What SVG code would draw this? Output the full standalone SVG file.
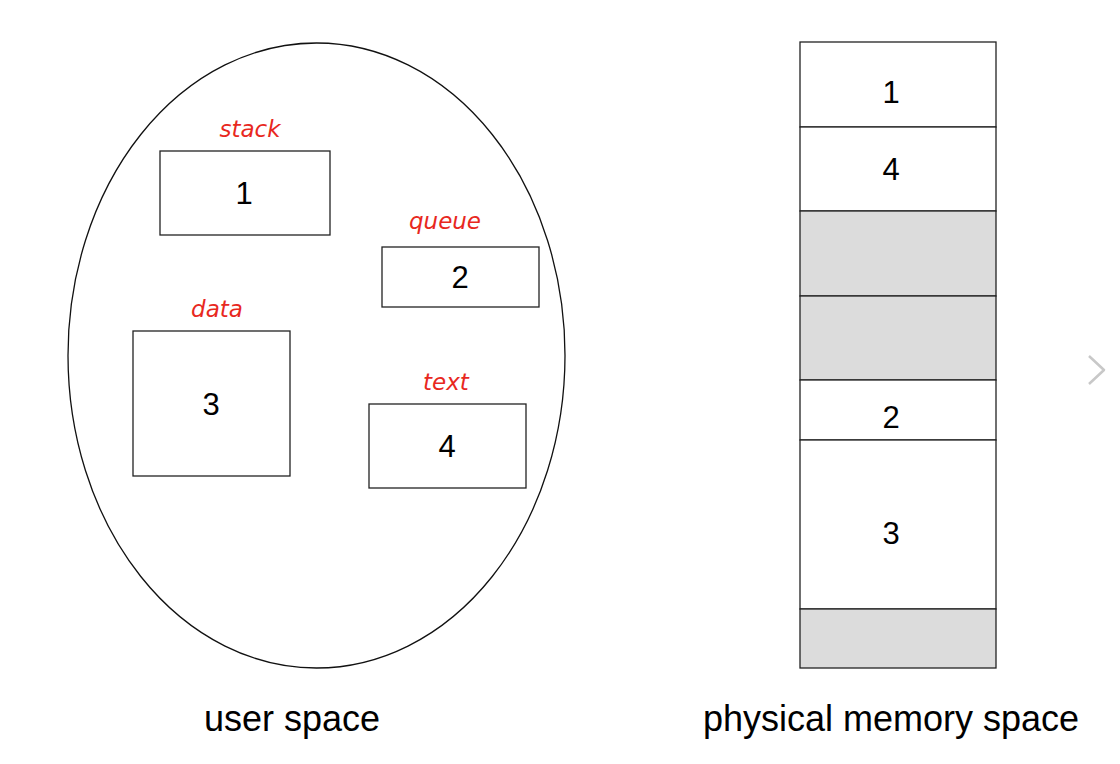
<svg xmlns="http://www.w3.org/2000/svg" width="1120" height="764" viewBox="0 0 1120 764">
<style>
.box{fill:#fff;stroke:#222;stroke-width:1.3}
.grey{fill:#dcdcdc;stroke:#222;stroke-width:1.3}
.num{font-family:"Liberation Sans",Arial,sans-serif;font-size:31px;fill:#000;text-anchor:middle}
.cap{font-family:"Liberation Sans",Arial,sans-serif;font-size:36px;fill:#000;text-anchor:middle}
.hand{font-family:"DejaVu Sans",sans-serif;font-style:italic;font-size:23px;fill:#e8281e;text-anchor:middle}
</style>
<rect width="1120" height="764" fill="#fff"/>
<g id="user-space">
<ellipse cx="316.5" cy="355.5" rx="248.5" ry="312.5" fill="none" stroke="#111" stroke-width="1.3"/>
</g>
<g id="seg1"><rect class="box" x="160" y="151" width="170" height="84"/><text class="num" x="244" y="204">1</text><text class="hand" x="250" y="137">stack</text></g>
<g id="seg2"><rect class="box" x="382" y="247" width="157" height="60"/><text class="num" x="460" y="288">2</text><text class="hand" x="445" y="229">queue</text></g>
<g id="seg3"><rect class="box" x="133" y="331" width="157" height="145"/><text class="num" x="211" y="415">3</text><text class="hand" x="217" y="317">data</text></g>
<g id="seg4"><rect class="box" x="369" y="404" width="157" height="84"/><text class="num" x="447" y="457">4</text><text class="hand" x="446" y="390">text</text></g>
<g id="memory">
<rect class="box" x="800" y="42" width="196" height="85"/><text class="num" x="891" y="103">1</text>
<rect class="box" x="800" y="127" width="196" height="84"/><text class="num" x="891" y="180">4</text>
<rect class="grey" x="800" y="211" width="196" height="85"/>
<rect class="grey" x="800" y="296" width="196" height="84"/>
<rect class="box" x="800" y="380" width="196" height="60"/><text class="num" x="891" y="428">2</text>
<rect class="box" x="800" y="440" width="196" height="169"/><text class="num" x="891" y="544">3</text>
<rect class="grey" x="800" y="609" width="196" height="59"/>
</g>
<g id="captions">
<text class="cap" x="292" y="731">user space</text>
<text class="cap" x="891" y="731">physical memory space</text>
</g>
<g id="chevron"><polyline points="1089,356 1104,370 1089,384" fill="none" stroke="#c8c8c8" stroke-width="2.5" stroke-linejoin="round"/></g>
</svg>
